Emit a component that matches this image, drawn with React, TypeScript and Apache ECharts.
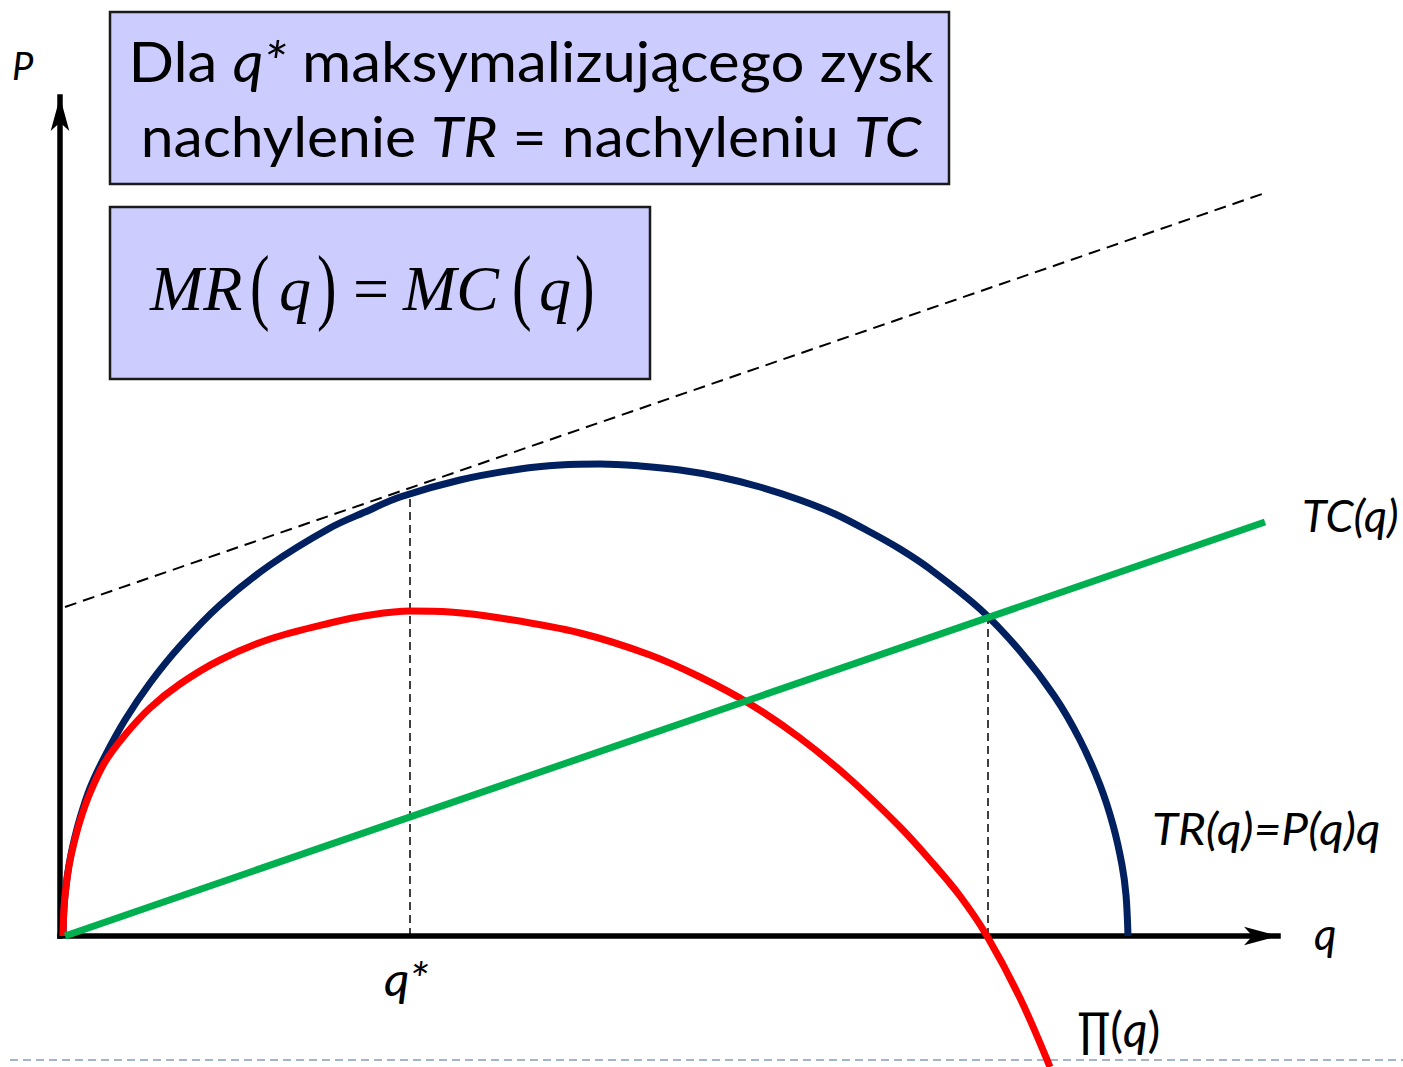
import React, { useEffect, useRef } from "react";
import * as echarts from "echarts";

// Total revenue TR(q) (blue)
const TR_Q = [0.03, 0.04, 0.06, 0.09, 0.13, 0.2, 0.3, 0.45, 0.65, 0.9, 1.2, 1.6, 2.1, 2.7, 3.05, 3.4, 4.0, 4.6, 5.0, 5.4, 5.8, 6.2, 6.6, 7.0, 7.4, 7.75, 8.1, 8.4, 8.7, 9.2, 9.6, 9.95, 10.2, 10.4, 10.53, 10.62, 10.66, 10.68];
const TR_V = [0, 0.29, 0.5, 0.71, 0.91, 1.18, 1.48, 1.8, 2.16, 2.53, 2.9, 3.31, 3.71, 4.08, 4.24, 4.39, 4.56, 4.67, 4.71, 4.72, 4.7, 4.66, 4.59, 4.49, 4.36, 4.22, 4.04, 3.87, 3.67, 3.27, 2.85, 2.39, 1.96, 1.51, 1.11, 0.71, 0.41, 0];

// Profit Π(q) (red)
const PI_Q = [0.03, 0.04, 0.06, 0.09, 0.13, 0.2, 0.3, 0.45, 0.65, 0.9, 1.2, 1.6, 2.1, 2.7, 3.1, 3.5, 3.9, 4.4, 5.2, 5.9, 6.4, 6.9, 7.4, 7.9, 8.4, 8.7, 9.0, 9.27, 9.6, 9.9];
const PI_V = [0, 0.28, 0.49, 0.7, 0.89, 1.15, 1.43, 1.74, 2.01, 2.28, 2.52, 2.76, 2.97, 3.13, 3.21, 3.25, 3.24, 3.18, 3.03, 2.81, 2.59, 2.32, 1.98, 1.57, 1.09, 0.76, 0.4, 0, -0.62, -1.31];

// Total cost TC(q) (green)
const TC_Q = [0.05, 12.05];
const TC_V = [0, 4.14];

// Tangent to TR at q* (dashed), parallel to TC
const TAN_Q = [0.05, 12.05];
const TAN_V = [3.29, 7.43];

// Dashed guides
const Q_STAR = 3.5;
const TR_AT_QSTAR = 4.44;
const Q_CROSS = 9.28;
const TC_AT_CROSS = 3.19;

const X_MAX = 12.18;
const Y_MAX = 8.39;

const pairs = (xs: number[], ys: number[]) => xs.map((x, i) => [x, ys[i]]);

const SANS = "Lato, 'Open Sans', 'DejaVu Sans', sans-serif";
const SERIF = "'Liberation Serif', 'DejaVu Serif', serif";

export default function App() {
  const ref = useRef<HTMLDivElement>(null);

  useEffect(() => {
    document.body.style.margin = "0";
    if (!ref.current) return;
    const chart = echarts.init(ref.current, undefined, { renderer: "svg" });

    const axisCommon = {
      type: "value" as const,
      axisLine: {
        show: true,
        onZero: true,
        symbol: ["none", "arrow"],
        symbolSize: [14, 34],
        lineStyle: { color: "#000", width: 5.5, cap: "square" },
      },
      axisTick: { show: false },
      axisLabel: { show: false },
      splitLine: { show: false },
    };

    const italicText = (text: string, x: number, y: number, size: number, scaleX = 1) => ({
      type: "text",
      x,
      y,
      scaleX,
      z: 100,
      style: {
        text,
        fill: "#000",
        fontFamily: SANS,
        fontStyle: "italic",
        fontSize: size,
        align: "left",
        verticalAlign: "middle",
      },
    });

    const serifText = (text: string, x: number, y: number, size: number, italic: boolean, scaleX = 1) => ({
      type: "text",
      x,
      y,
      scaleX,
      z: 100,
      style: {
        text,
        fill: "#000",
        fontFamily: SERIF,
        fontStyle: italic ? "italic" : "normal",
        fontSize: size,
        align: "left",
        verticalAlign: "middle",
      },
    });

    const boxRich = {
      a: { fontFamily: SANS, fontSize: 56, fontStyle: "normal", fill: "#000" },
      b: { fontFamily: SANS, fontSize: 56, fontStyle: "italic", fill: "#000" },
    };

    const curve = { type: "line", symbol: "none", clip: false, smooth: 0.35 };

    chart.setOption({
      animation: false,
      grid: { left: 60, top: 97, width: 1218, height: 839 },
      xAxis: { ...axisCommon, min: 0, max: X_MAX },
      yAxis: { ...axisCommon, min: 0, max: Y_MAX },
      series: [
        {
          ...curve,
          name: "TR",
          data: pairs(TR_Q, TR_V),
          z: 3,
          lineStyle: { color: "#002060", width: 7 },
        },
        {
          ...curve,
          name: "Pi",
          data: pairs(PI_Q, PI_V),
          z: 4,
          lineStyle: { color: "#ff0000", width: 7 },
        },
        {
          name: "TC",
          type: "line",
          data: pairs(TC_Q, TC_V),
          symbol: "none",
          clip: false,
          z: 5,
          lineStyle: { color: "#00b050", width: 7 },
        },
        {
          name: "tangent",
          type: "line",
          data: pairs(TAN_Q, TAN_V),
          symbol: "none",
          clip: false,
          z: 2,
          lineStyle: { color: "#000", width: 2, type: [12, 7] },
        },
        {
          name: "qstar",
          type: "line",
          data: [[Q_STAR, 0], [Q_STAR, TR_AT_QSTAR]],
          symbol: "none",
          z: 2,
          lineStyle: { color: "#000", width: 1.5, type: [8, 5] },
        },
        {
          name: "cross",
          type: "line",
          data: [[Q_CROSS, 0], [Q_CROSS, TC_AT_CROSS]],
          symbol: "none",
          z: 2,
          lineStyle: { color: "#000", width: 1.5, type: [8, 5] },
        },
      ],
      graphic: [
        {
          type: "rect",
          z: 50,
          shape: { x: 110, y: 12, width: 839, height: 172 },
          style: { fill: "#ccccff", stroke: "#1a1a1a", lineWidth: 2.5 },
        },
        {
          type: "rect",
          z: 50,
          shape: { x: 110, y: 207, width: 540, height: 172 },
          style: { fill: "#ccccff", stroke: "#1a1a1a", lineWidth: 2.5 },
        },
        {
          type: "text",
          x: 531,
          y: 60,
          scaleX: 1.07,
          z: 100,
          style: {
            text: "{a|Dla }{b|q*}{a| maksymalizującego zysk}",
            rich: boxRich,
            align: "center",
            verticalAlign: "middle",
          },
        },
        {
          type: "text",
          x: 531,
          y: 135,
          scaleX: 1.05,
          z: 100,
          style: {
            text: "{a|nachylenie }{b|TR}{a| = nachyleniu }{b|TC}",
            rich: boxRich,
            align: "center",
            verticalAlign: "middle",
          },
        },
        serifText("MR", 150, 288, 64, true),
        serifText("(", 250, 286, 84, false, 0.7),
        serifText("q", 279, 288, 64, true),
        serifText(")", 317, 286, 84, false, 0.7),
        serifText("=", 353, 288, 64, false),
        serifText("MC", 403, 288, 64, true),
        serifText("(", 512, 286, 84, false, 0.7),
        serifText("q", 539, 288, 64, true),
        serifText(")", 575, 286, 84, false, 0.7),
        italicText("P", 12, 65, 38),
        italicText("q", 1314, 933, 44),
        italicText("q*", 384, 978, 46, 1.08),
        italicText("TC(q)", 1302, 515, 45),
        italicText("TR(q)=P(q)q", 1152, 828, 45, 1.06),
        {
          type: "text",
          x: 1077,
          y: 1028,
          z: 100,
          style: {
            text: "{a|∏(}{b|q}{a|)}",
            rich: {
              a: { fontFamily: SANS, fontSize: 48, fontStyle: "normal", fill: "#000" },
              b: { fontFamily: SANS, fontSize: 48, fontStyle: "italic", fill: "#000" },
            },
            align: "left",
            verticalAlign: "middle",
          },
        },
        {
          type: "line",
          z: 1,
          shape: { x1: 10, y1: 1060, x2: 1403, y2: 1060 },
          style: { stroke: "#a3b5c9", lineWidth: 2, lineDash: [8, 5] },
        },
      ],
    });

    return () => chart.dispose();
  }, []);

  return <div ref={ref} style={{ width: 1403, height: 1067 }} />;
}
